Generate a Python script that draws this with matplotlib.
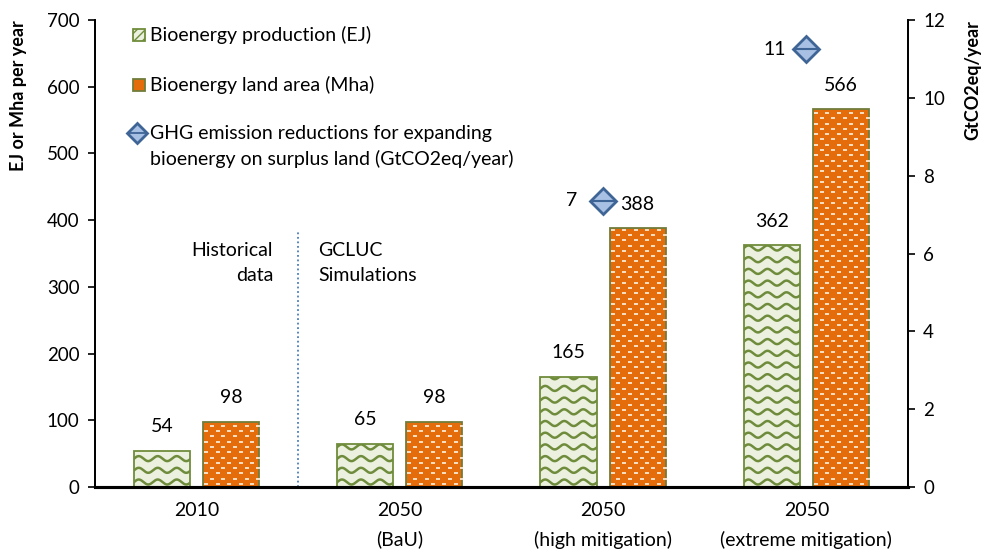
import numpy as np
import matplotlib.pyplot as plt
from matplotlib.patches import Rectangle

plt.rcParams["font.family"] = ["Lato", "DejaVu Sans"]

categories = ["2010", "2050\n(BaU)", "2050\n(high mitigation)", "2050\n(extreme mitigation)"]
production = [54, 65, 165, 362]
land_area = [98, 98, 388, 566]
ghg = [np.nan, np.nan, 7.35, 11.25]
ghg_labels = ["", "", "7", "11"]

GREEN_FACE = "#ebf1de"
GREEN_LINE = "#6f8c3c"
ORANGE = "#e46c0a"
ORANGE_EDGE = "#6f7d3c"
DASH = "#fbe0c4"
BLUE_FACE = "#a7c0e4"
BLUE_EDGE = "#3e6596"

fig = plt.figure(figsize=(9.82, 5.49), dpi=100)
ax = fig.add_axes([0.0967, 0.1129, 0.8279, 0.8507])
ax2 = ax.twinx()

x = np.arange(len(categories))
w = 0.276
off = 0.17

green_bars = ax.bar(x - off, production, w, facecolor=GREEN_FACE, edgecolor=GREEN_LINE, linewidth=1.3, zorder=2)
orange_bars = ax.bar(x + off, land_area, w, facecolor=ORANGE, edgecolor=ORANGE_EDGE, linewidth=1.3, zorder=2)

ax.set_xlim(-0.5, 3.5)
ax.set_ylim(0, 700)
ax2.set_ylim(0, 12)

# texture: waves on production bars, small dashes on land bars
xpx = 4.0 / 813   # data units per pixel (x)
ypx = 700 / 467   # data units per pixel (y)
for bar in green_bars:
    x0, w0, h0 = bar.get_x(), bar.get_width(), bar.get_height()
    xs = np.linspace(x0 - 0.02, x0 + w0 + 0.02, 200)
    for yb in np.arange(5 * ypx, h0 + 12 * ypx, 11.7 * ypx):
        ys = yb + 2.5 * ypx * np.sin(2 * np.pi * (xs - x0) / (19 * xpx))
        ln, = ax.plot(xs, ys, color=GREEN_LINE, lw=1.8, zorder=3)
        ln.set_clip_path(bar)
for bar in orange_bars:
    x0, w0, h0 = bar.get_x(), bar.get_width(), bar.get_height()
    px, py = [], []
    for i, yb in enumerate(np.arange(3 * ypx, h0, 5.3 * ypx)):
        shift = 5.8 * xpx if i % 2 else 0
        for xb in np.arange(x0 + 3 * xpx + shift, x0 + w0, 11.6 * xpx):
            px.append(xb)
            py.append(yb)
    sc = ax.scatter(px, py, marker="_", s=10, color=DASH, linewidths=1.4, zorder=3)
    sc.set_clip_path(bar)

for xi, v in zip(x - off, production):
    ax.text(xi, v + 24 * ypx, f"{v}", ha="center", va="center", fontsize=14)
for xi, v in zip(x + off, land_area):
    ax.text(xi, v + 24 * ypx, f"{v}", ha="center", va="center", fontsize=14)

ax2.plot(x, ghg, ls="none", marker="D", markersize=13, markerfacecolor=BLUE_FACE,
         markeredgecolor=BLUE_EDGE, markeredgewidth=2, zorder=4)
ax2.plot(x, ghg, ls="none", marker="_", markersize=17, markeredgecolor=BLUE_EDGE,
         markeredgewidth=1.5, zorder=5)
for xi, v, lab in zip(x, ghg, ghg_labels):
    if lab:
        ax2.text(xi - 0.155, v, lab, ha="center", va="center", fontsize=14)

# divider between historical data and simulations
ax.plot([0.5, 0.5], [0, 385], color="#4a7ebb", ls=(0, (1, 1.5)), lw=1.3, zorder=1)
ax.text(0.377, 336, "Historical\ndata", ha="right", va="center", fontsize=14, linespacing=1.6)
ax.text(0.598, 336, "GCLUC\nSimulations", ha="left", va="center", fontsize=14, linespacing=1.6)

ax.set_xticks(x)
ax.set_xticklabels(categories, fontsize=14, linespacing=1.75)
ax.tick_params(axis="x", length=0, pad=11)
ax.set_yticks(np.arange(0, 701, 100))
ax.tick_params(axis="y", labelsize=13.5, length=5, width=1.2, pad=6)
ax2.set_yticks(np.arange(0, 13, 2))
ax2.tick_params(axis="y", labelsize=13.5, length=5, width=1.2, pad=6)

for a in (ax, ax2):
    a.spines["top"].set_visible(False)
    a.spines["left"].set_linewidth(1.3)
    a.spines["right"].set_linewidth(1.3)
    a.spines["bottom"].set_linewidth(2.2)

ax.set_ylabel("EJ or Mha per year", fontsize=13, fontweight="bold", loc="top")
ax.yaxis.set_label_coords(-0.083, 1.0)
ax2.set_ylabel("GtCO2eq/year", fontsize=13, fontweight="bold", loc="top")
ax2.yaxis.set_label_coords(1.07, 1.0)

# legend drawn by hand so the diamond sits on the first line of its label
sq_w, sq_h = 12 / 813, 12 / 467
ax.add_patch(Rectangle((0.0467, 0.968 - sq_h / 2), sq_w, sq_h, transform=ax.transAxes,
                       facecolor=GREEN_FACE, edgecolor=GREEN_LINE, hatch="////", linewidth=1.3,
                       clip_on=False, zorder=5))
ax.add_patch(Rectangle((0.0467, 0.861 - sq_h / 2), sq_w, sq_h, transform=ax.transAxes,
                       facecolor=ORANGE, edgecolor=ORANGE_EDGE, linewidth=1.3,
                       clip_on=False, zorder=5))
ax.plot([0.0517], [0.758], transform=ax.transAxes, ls="none", marker="D", markersize=10,
        markerfacecolor=BLUE_FACE, markeredgecolor=BLUE_EDGE, markeredgewidth=2, clip_on=False, zorder=5)
ax.plot([0.0517], [0.758], transform=ax.transAxes, ls="none", marker="_", markersize=14,
        markeredgecolor=BLUE_EDGE, markeredgewidth=1.3, clip_on=False, zorder=6)
ax.text(0.0677, 0.968, "Bioenergy production (EJ)", transform=ax.transAxes, ha="left", va="center", fontsize=14)
ax.text(0.0677, 0.861, "Bioenergy land area (Mha)", transform=ax.transAxes, ha="left", va="center", fontsize=14)
ax.text(0.0677, 0.729, "GHG emission reductions for expanding\nbioenergy on surplus land (GtCO2eq/year)",
        transform=ax.transAxes, ha="left", va="center", fontsize=14, linespacing=1.5)

fig.savefig("out.png", dpi=100)
